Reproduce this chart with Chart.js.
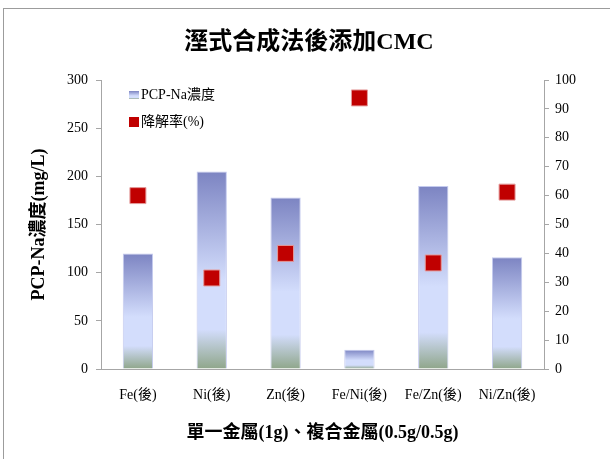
<!DOCTYPE html>
<html>
<head>
<meta charset="utf-8">
<script src="https://cdn.jsdelivr.net/npm/chart.js@4/dist/chart.umd.min.js"></script>
<style>
  html, body { margin: 0; padding: 0; background: #fff; }
  #wrap { position: relative; width: 610px; height: 459px; overflow: hidden; }
  #frame { position: absolute; left: 3px; top: 8px; width: 620px; height: 470px;
           border-left: 1px solid #9c9c9c; border-top: 1px solid #9c9c9c; pointer-events: none; }
  #legend { position: absolute; left: 129px; top: 86px; font: 14px "Liberation Serif", "Noto Sans CJK TC", serif; color: #000; }
  .item { position: relative; height: 18px; line-height: 18px; padding-left: 12px; margin-bottom: 9px; white-space: nowrap; }
  .sw1 { position: absolute; left: 0; top: 5px; width: 10px; height: 8px;
         background: linear-gradient(#7c84c2, #d3ddfc 60%, #d3ddfc 85%, #8fa68a); }
  .sw2 { position: absolute; left: 0; top: 4px; width: 10px; height: 10px; background: #c00000; }
</style>
</head>
<body>
<div id="wrap">
  <canvas id="c" width="610" height="459"></canvas>
  <div id="frame"></div>
  <div id="legend">
    <div class="item"><span class="sw1"></span>PCP-Na濃度</div>
    <div class="item"><span class="sw2"></span>降解率(%)</div>
  </div>
</div>
<script>
const categories = ['Fe(後)', 'Ni(後)', 'Zn(後)', 'Fe/Ni(後)', 'Fe/Zn(後)', 'Ni/Zn(後)'];
const concentration = [120, 205, 178, 20, 190, 116];     // PCP-Na濃度 (mg/L)
const degradation = [60, 31.5, 40, 93.8, 36.7, 61.2];      // 降解率 (%)
const leftTicks = [0, 50, 100, 150, 200, 250, 300];
const rightTicks = [0, 10, 20, 30, 40, 50, 60, 70, 80, 90, 100];

const serif = '"Liberation Serif", "Noto Sans CJK TC", serif';
const axisColor = '#a6a6a6';

function barGradient(ctx) {
  const chart = ctx.chart;
  if (!chart.chartArea || ctx.type !== 'data') return '#c8d0f4';
  const yS = chart.scales.y;
  const top = yS.getPixelForValue(ctx.raw);
  const base = yS.getPixelForValue(0);
  if (!isFinite(top) || !isFinite(base) || base - top < 1) return '#c8d0f4';
  const g = chart.ctx.createLinearGradient(0, top, 0, base);
  g.addColorStop(0, '#7c84c2');
  g.addColorStop(0.55, '#d3ddfc');
  g.addColorStop(0.8, '#d3ddfc');
  g.addColorStop(1, '#8fa68a');
  return g;
}

new Chart(document.getElementById('c'), {
  data: {
    labels: categories,
    datasets: [
      {
        type: 'line',
        label: '降解率(%)',
        data: degradation,
        yAxisID: 'y1',
        showLine: false,
        pointStyle: 'rect',
        pointRadius: 11.3,
        pointHoverRadius: 11.3,
        pointBackgroundColor: '#c00000',
        pointBorderColor: '#e49a9a',
        pointBorderWidth: 1,
        order: 0
      },
      {
        type: 'bar',
        label: 'PCP-Na濃度',
        data: concentration,
        yAxisID: 'y',
        backgroundColor: barGradient,
        borderColor: 'rgba(190,196,236,0.9)',
        borderWidth: 1,
        barPercentage: 0.41,
        categoryPercentage: 1.0,
        order: 1
      }
    ]
  },
  options: {
    responsive: false,
    animation: false,
    events: [],
    layout: { padding: { left: 8, right: 0, top: 8, bottom: 0 } },
    plugins: {
      legend: { display: false },
      tooltip: { enabled: false },
      title: {
        display: true,
        text: '溼式合成法後添加CMC',
        color: '#000',
        font: { family: serif, size: 24, weight: 'bold', lineHeight: 1.2 },
        padding: { top: 20, bottom: 23.2 }
      }
    },
    scales: {
      x: {
        offset: true,
        grid: { display: false, drawTicks: false },
        border: { display: true, color: axisColor, width: 1 },
        ticks: { color: '#000', font: { family: serif, size: 14 }, padding: 18, maxRotation: 0, autoSkip: false },
        title: {
          display: true,
          text: '單一金屬(1g)、複合金屬(0.5g/0.5g)',
          color: '#000',
          font: { family: serif, size: 18, weight: 'bold', lineHeight: 1.2 },
          padding: { top: 0, bottom: 15 }
        },
        afterFit: (s) => { s.height = 90; }
      },
      y: {
        position: 'left',
        min: 0, max: 300,
        afterBuildTicks: (s) => { s.ticks = leftTicks.map(v => ({ value: v })); },
        grid: { display: true, drawOnChartArea: false, drawTicks: true, tickLength: 5, color: axisColor },
        border: { display: true, color: axisColor, width: 1 },
        ticks: { color: '#000', font: { family: serif, size: 14 }, padding: 8 },
        title: {
          display: true,
          text: 'PCP-Na濃度(mg/L)',
          color: '#000',
          font: { family: serif, size: 18, weight: 'bold', lineHeight: 1.2 },
          padding: { top: 21, bottom: 0 }
        },
        afterFit: (s) => { s.width = 93; }
      },
      y1: {
        position: 'right',
        min: 0, max: 100,
        afterBuildTicks: (s) => { s.ticks = rightTicks.map(v => ({ value: v })); },
        grid: { display: true, drawOnChartArea: false, drawTicks: true, tickLength: 5, color: axisColor },
        border: { display: true, color: axisColor, width: 1 },
        ticks: { color: '#000', font: { family: serif, size: 14 }, padding: 6 },
        afterFit: (s) => { s.width = 66; }
      }
    }
  }
});
</script>
</body>
</html>
